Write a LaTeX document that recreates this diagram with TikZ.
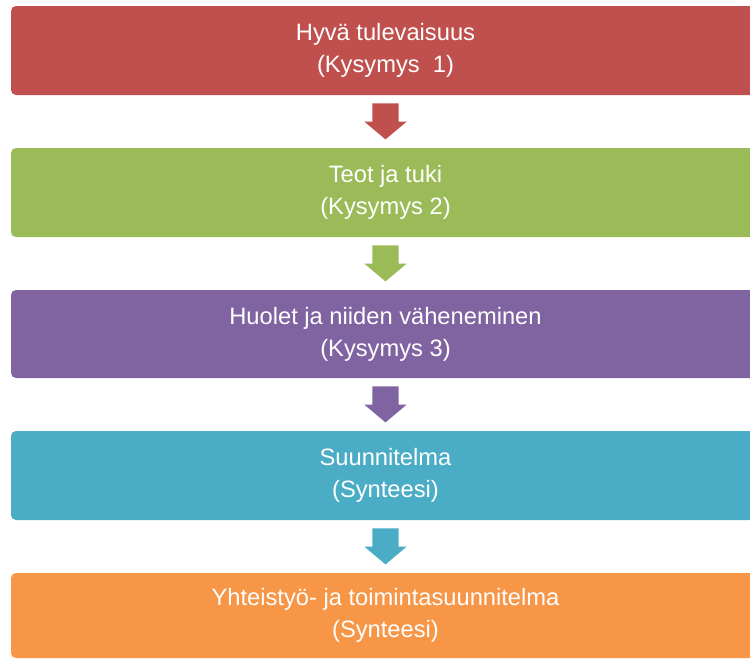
\documentclass[tikz,border=0pt]{standalone}
\usepackage{fontspec}
\setmainfont{Liberation Sans}
\usetikzlibrary{shapes.arrows,calc}

\definecolor{punainen}{HTML}{C0504D}
\definecolor{vihrea}{HTML}{9BBB59}
\definecolor{violetti}{HTML}{8064A2}
\definecolor{turkoosi}{HTML}{4BACC6}
\definecolor{oranssi}{HTML}{F79646}

\tikzset{
  laatikko/.style={rectangle,rounded corners=5pt,minimum width=749pt,
    minimum height=89pt,inner sep=0pt,text=white,align=center,
    font=\fontsize{23.7}{32}\selectfont},
  nuoli/.style={single arrow,shape border rotate=270,minimum height=36pt,
    inner xsep=13pt,inner ysep=0pt,single arrow head extend=8pt,
    single arrow tip angle=100,anchor=tail}
}

\begin{document}
\begin{tikzpicture}[x=1pt,y=1pt]

\useasboundingbox (0,0) rectangle (750,-659);
\clip (0,0) rectangle (750,-659);

\node[laatikko,fill=punainen] (kys1) at (385.5,-50.5) {Hyvä tulevaisuus\\(Kysymys\ \ 1)};
\node[laatikko,fill=vihrea] (kys2) at (385.5,-192.5) {Teot ja tuki\\(Kysymys 2)};
\node[laatikko,fill=violetti,minimum height=88pt] (kys3) at (385.5,-334) {Huolet ja niiden väheneminen\\(Kysymys 3)};
\node[laatikko,fill=turkoosi] (synt1) at (385.5,-475.5) {Suunnitelma\\(Synteesi)};
\node[laatikko,fill=oranssi,minimum height=85pt] (synt2) at (385.5,-615.5) {Yhteistyö- ja toimintasuunnitelma\\(Synteesi)};

% nuolet laatikoiden valiin
\node[nuoli,fill=punainen] (n1) at ($(kys1.south)+(0,-8)$) {};
\node[nuoli,fill=vihrea] (n2) at ($(kys2.south)+(0,-8)$) {};
\node[nuoli,fill=violetti] (n3) at ($(kys3.south)+(0,-8)$) {};
\node[nuoli,fill=turkoosi] (n4) at ($(synt1.south)+(0,-8)$) {};

\end{tikzpicture}
\end{document}
